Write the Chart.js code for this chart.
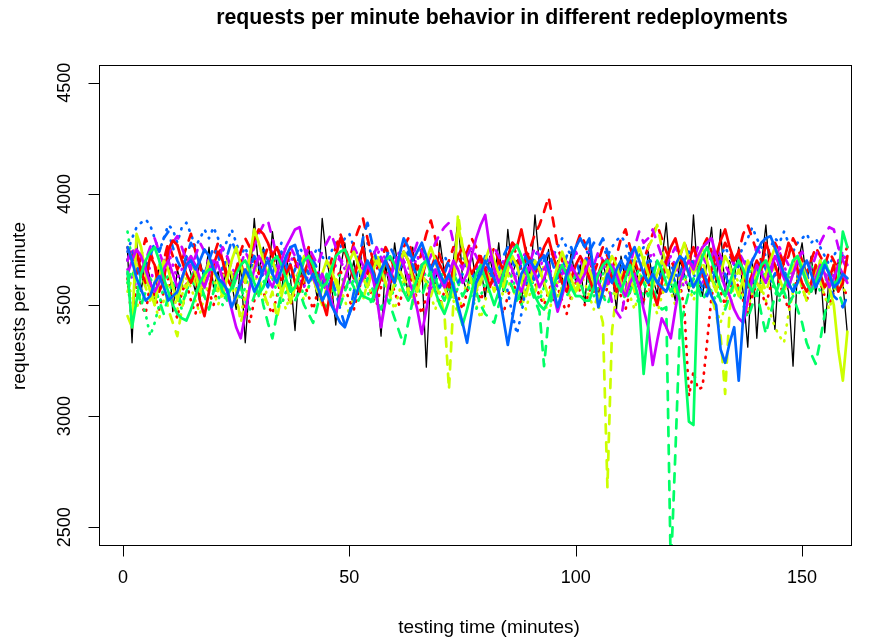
<!DOCTYPE html>
<html>
<head>
<meta charset="utf-8">
<script src="https://cdn.jsdelivr.net/npm/chart.js@4.4.0/dist/chart.umd.min.js"></script>
<style>
  html, body { margin: 0; padding: 0; background: #ffffff; }
  #chart { display: block; }
</style>
</head>
<body>
<canvas id="chart" width="869" height="641"></canvas>
<script>
// requests per minute, one array per redeployment (minute 1..160)
const minutes = Array.from({ length: 160 }, (_, i) => i + 1);
const xTicks = [0, 50, 100, 150];
const yTicks = [2500, 3000, 3500, 4000, 4500];

const blackSolid = [
  3740, 3330, 3790, 3560, 3700, 3620, 3510, 3680, 3590, 3750, 3470, 3660, 3580, 3720, 3640, 3560, 3700, 3610, 3760, 3580,
  3650, 3540, 3720, 3600, 3480, 3690, 3330, 3610, 3890, 3650, 3760, 3590, 3830, 3680, 3560, 3720, 3620, 3385, 3700, 3580,
  3760, 3640, 3520, 3890, 3700, 3600, 3410, 3660, 3780, 3600, 3700, 3550, 3820, 3640, 3720, 3590, 3360, 3680, 3560, 3780,
  3620, 3700, 3540, 3760, 3600, 3680, 3220, 3650, 3580, 3790, 3640, 3520, 3700, 3890, 3620, 3560, 3740, 3600, 3680, 3530,
  3720, 3610, 3780, 3560, 3840, 3640, 3700, 3500, 3760, 3620, 3905, 3680, 3580, 3750, 3520, 3700, 3620, 3560, 3740, 3600,
  3680, 3500, 3760, 3620, 3540, 3700, 3590, 3650, 3480, 3720, 3610, 3560, 3690, 3600, 3500, 3740, 3620, 3550, 3700, 3870,
  3600, 3520, 3700, 3640, 3560, 3905, 3620, 3540, 3700, 3850, 3600, 3840, 3560, 3700, 3620, 3760, 3550, 3310, 3700, 3350,
  3680, 3860, 3600, 3390, 3720, 3640, 3560, 3225, 3680, 3780, 3600, 3720, 3550, 3680, 3375, 3640, 3560, 3700, 3600, 3370
];
const redSolid = [
  3760, 3700, 3740, 3650, 3600, 3720, 3680, 3560, 3610, 3750, 3790, 3770, 3700, 3640, 3600, 3650, 3520, 3450, 3560, 3680,
  3740, 3700, 3620, 3580, 3650, 3700, 3600, 3720, 3800, 3840, 3820, 3780, 3720, 3760, 3700, 3640, 3680, 3600, 3560, 3640,
  3700, 3650, 3580, 3520, 3455, 3600, 3720, 3800, 3740, 3680, 3620, 3700, 3760, 3640, 3700, 3560, 3620, 3700, 3660, 3600,
  3680, 3740, 3700, 3640, 3580, 3620, 3700, 3660, 3720, 3680, 3640, 3580, 3660, 3720, 3760, 3700, 3640, 3680, 3720, 3660,
  3580, 3640, 3700, 3660, 3720, 3780, 3760, 3840, 3740, 3700, 3640, 3700, 3760, 3800, 3720, 3660, 3600, 3560, 3620, 3680,
  3720, 3680, 3620, 3560, 3640, 3700, 3680, 3620, 3560, 3600, 3660, 3700, 3640, 3580, 3620, 3680, 3560, 3500, 3600, 3700,
  3760, 3800, 3720, 3660, 3700, 3760, 3700, 3640, 3580, 3660, 3720, 3790, 3840, 3760, 3700, 3740, 3640, 3580, 3640, 3700,
  3660, 3780, 3720, 3680, 3620, 3700, 3780, 3740, 3660, 3600, 3560, 3600, 3680, 3640, 3580, 3620, 3680, 3560, 3600, 3720
];
const redDashed = [
  3700, 3760, 3640, 3720, 3800, 3740, 3680, 3620, 3700, 3780, 3720, 3660, 3700, 3760, 3820, 3740, 3680, 3600, 3660, 3720,
  3780, 3700, 3640, 3580, 3660, 3740, 3800, 3760, 3700, 3640, 3700, 3760, 3720, 3660, 3600, 3680, 3740, 3700, 3640, 3700,
  3760, 3700, 3640, 3580, 3620, 3700, 3760, 3820, 3760, 3700, 3780, 3840, 3890, 3800, 3720, 3660, 3700, 3760, 3720, 3660,
  3700, 3760, 3800, 3720, 3660, 3740, 3820, 3880, 3800, 3720, 3660, 3700, 3760, 3720, 3680, 3740, 3800, 3760, 3700, 3640,
  3700, 3760, 3700, 3640, 3700, 3780, 3720, 3660, 3700, 3760, 3820, 3860, 3920, 3985, 3880, 3760, 3700, 3640, 3700, 3760,
  3820, 3780, 3700, 3640, 3700, 3760, 3720, 3660, 3720, 3800, 3840, 3760, 3700, 3640, 3700, 3760, 3820, 3860, 3800, 3740,
  3700, 3660, 3720, 3780, 3720, 3660, 3700, 3760, 3800, 3740, 3680, 3720, 3780, 3740, 3680, 3740, 3820, 3860, 3800, 3740,
  3700, 3660, 3720, 3780, 3740, 3680, 3720, 3800, 3760, 3700, 3640, 3700, 3760, 3720, 3680, 3740, 3700, 3660, 3720, 3760
];
const redDotted = [
  3620, 3420, 3580, 3500, 3460, 3600, 3540, 3480, 3560, 3620, 3500, 3440, 3560, 3600, 3520, 3460, 3540, 3600, 3560, 3500,
  3580, 3640, 3560, 3500, 3540, 3600, 3480, 3420, 3520, 3600, 3560, 3500, 3460, 3540, 3620, 3580, 3500, 3560, 3640, 3600,
  3540, 3480, 3560, 3620, 3580, 3520, 3600, 3660, 3580, 3520, 3480, 3560, 3640, 3600, 3540, 3500, 3580, 3660, 3620, 3560,
  3500, 3580, 3640, 3600, 3520, 3460, 3540, 3620, 3580, 3500, 3560, 3640, 3600, 3540, 3480, 3560, 3620, 3580, 3520, 3580,
  3640, 3600, 3520, 3460, 3540, 3600, 3560, 3500, 3580, 3640, 3600, 3540, 3500, 3560, 3620, 3580, 3520, 3460, 3540, 3600,
  3560, 3500, 3560, 3620, 3580, 3520, 3580, 3640, 3600, 3540, 3480, 3560, 3620, 3580, 3520, 3580, 3640, 3600, 3540, 3600,
  3640, 3580, 3600, 3480, 3090, 3200, 3120, 3130, 3330, 3540, 3620, 3560, 3500, 3560, 3620, 3580, 3520, 3460, 3540, 3600,
  3560, 3500, 3580, 3640, 3600, 3540, 3480, 3560, 3620, 3580, 3520, 3580, 3640, 3600, 3540, 3500, 3560, 3620, 3580, 3540
];
const yellowSolid = [
  3450, 3400, 3820, 3760, 3640, 3560, 3500, 3620, 3700, 3660, 3580, 3520, 3600, 3680, 3720, 3640, 3560, 3620, 3700, 3660,
  3600, 3540, 3620, 3700, 3760, 3680, 3600, 3720, 3840, 3780, 3700, 3640, 3700, 3640, 3560, 3600, 3510, 3580, 3660, 3720,
  3680, 3620, 3560, 3640, 3700, 3660, 3600, 3540, 3620, 3700, 3740, 3680, 3620, 3580, 3640, 3700, 3660, 3600, 3540, 3600,
  3680, 3740, 3700, 3620, 3560, 3640, 3700, 3760, 3700, 3620, 3580, 3520, 3600, 3860, 3760, 3680, 3600, 3560, 3640, 3700,
  3760, 3700, 3640, 3580, 3660, 3720, 3680, 3600, 3540, 3620, 3700, 3660, 3600, 3540, 3600, 3680, 3740, 3680, 3620, 3560,
  3620, 3700, 3660, 3600, 3520, 3580, 3660, 3720, 3680, 3600, 3540, 3620, 3700, 3760, 3700, 3640, 3580, 3640, 3700, 3660,
  3600, 3660, 3720, 3780, 3700, 3640, 3700, 3760, 3700, 3620, 3560, 3640, 3720, 3680, 3600, 3540, 3620, 3700, 3660, 3600,
  3560, 3640, 3700, 3760, 3700, 3640, 3580, 3640, 3720, 3680, 3620, 3560, 3620, 3700, 3640, 3580, 3500, 3300, 3160, 3380
];
const yellowDashed = [
  3560, 3620, 3700, 3640, 3580, 3520, 3600, 3680, 3620, 3480, 3420, 3360, 3480, 3580, 3640, 3600, 3540, 3620, 3680, 3620,
  3560, 3620, 3700, 3640, 3560, 3420, 3500, 3600, 3680, 3620, 3560, 3500, 3560, 3440, 3540, 3620, 3680, 3620, 3560, 3620,
  3680, 3620, 3560, 3500, 3580, 3660, 3620, 3560, 3620, 3700, 3640, 3580, 3520, 3600, 3680, 3740, 3660, 3600, 3540, 3600,
  3660, 3620, 3560, 3500, 3580, 3640, 3600, 3540, 3600, 3540, 3460, 3120, 3520, 3910, 3760, 3660, 3600, 3540, 3600, 3660,
  3620, 3560, 3620, 3680, 3640, 3580, 3520, 3600, 3660, 3620, 3560, 3620, 3680, 3640, 3580, 3520, 3580, 3640, 3600, 3540,
  3600, 3660, 3620, 3560, 3500, 3420, 2680, 3380, 3560, 3620, 3680, 3620, 3560, 3620, 3700, 3760, 3800, 3860, 3760, 3680,
  3620, 3560, 3620, 3680, 3640, 3580, 3640, 3700, 3620, 3540, 3460, 3360, 3100, 3480, 3600, 3660, 3600, 3540, 3600, 3660,
  3620, 3560, 3620, 3680, 3620, 3560, 3620, 3680, 3640, 3580, 3520, 3600, 3660, 3620, 3560, 3620, 3680, 3640, 3580, 3620
];
const yellowDotted = [
  3600, 3540, 3480, 3560, 3620, 3580, 3500, 3440, 3520, 3600, 3560, 3480, 3540, 3620, 3580, 3520, 3460, 3540, 3600, 3560,
  3500, 3560, 3620, 3580, 3520, 3460, 3540, 3600, 3640, 3580, 3520, 3580, 3640, 3600, 3540, 3480, 3560, 3620, 3580, 3520,
  3580, 3640, 3600, 3540, 3480, 3560, 3620, 3580, 3520, 3460, 3540, 3600, 3660, 3600, 3540, 3580, 3640, 3600, 3540, 3480,
  3560, 3620, 3580, 3520, 3580, 3640, 3600, 3540, 3480, 3560, 3620, 3580, 3520, 3460, 3540, 3600, 3560, 3500, 3440, 3520,
  3580, 3640, 3600, 3540, 3580, 3640, 3600, 3540, 3480, 3560, 3620, 3580, 3520, 3460, 3540, 3600, 3640, 3580, 3520, 3580,
  3640, 3600, 3540, 3480, 3560, 3620, 3580, 3520, 3580, 3640, 3600, 3540, 3480, 3560, 3620, 3580, 3520, 3460, 3540, 3600,
  3560, 3500, 3560, 3620, 3580, 3520, 3580, 3640, 3600, 3540, 3480, 3420, 3500, 3580, 3640, 3600, 3540, 3480, 3560, 3620,
  3580, 3520, 3460, 3400, 3360, 3330, 3460, 3560, 3620, 3580, 3520, 3580, 3640, 3600, 3540, 3480, 3560, 3620, 3580, 3540
];
const greenSolid = [
  3650, 3400, 3520, 3640, 3700, 3740, 3760, 3700, 3620, 3560, 3500, 3460, 3440, 3430, 3480, 3540, 3600, 3640, 3660, 3660,
  3620, 3560, 3540, 3580, 3640, 3680, 3700, 3660, 3600, 3550, 3580, 3640, 3700, 3720, 3680, 3620, 3560, 3580, 3640, 3700,
  3720, 3680, 3620, 3580, 3600, 3660, 3720, 3740, 3750, 3700, 3640, 3580, 3540, 3530, 3520, 3580, 3640, 3700, 3720, 3680,
  3620, 3560, 3520, 3560, 3620, 3680, 3700, 3640, 3560, 3500, 3460, 3520, 3600, 3480, 3410, 3480, 3560, 3640, 3680, 3620,
  3560, 3500, 3560, 3640, 3700, 3740, 3770, 3720, 3660, 3600, 3540, 3500, 3480, 3520, 3580, 3640, 3680, 3640, 3580, 3540,
  3540, 3520, 3520, 3580, 3640, 3680, 3700, 3660, 3600, 3560, 3620, 3680, 3600, 3520, 3190, 3400, 3620, 3700, 3660, 3600,
  3560, 3600, 3520, 3250, 2975, 2960, 3650, 3720, 3760, 3700, 3640, 3580, 3540, 3600, 3660, 3700, 3660, 3600, 3560, 3620,
  3680, 3700, 3640, 3580, 3540, 3580, 3640, 3700, 3720, 3660, 3600, 3560, 3600, 3660, 3700, 3640, 3580, 3620, 3830, 3760
];
const greenDashed = [
  3600, 3660, 3580, 3500, 3560, 3620, 3580, 3520, 3460, 3540, 3600, 3560, 3500, 3560, 3620, 3660, 3600, 3540, 3480, 3560,
  3620, 3580, 3520, 3560, 3620, 3580, 3520, 3480, 3540, 3600, 3500, 3420, 3350, 3460, 3560, 3620, 3580, 3520, 3560, 3500,
  3460, 3420, 3500, 3580, 3640, 3600, 3540, 3500, 3560, 3620, 3580, 3520, 3560, 3620, 3580, 3520, 3480, 3540, 3500, 3440,
  3380, 3320, 3420, 3520, 3580, 3540, 3600, 3660, 3620, 3560, 3520, 3580, 3640, 3600, 3540, 3580, 3620, 3560, 3500, 3460,
  3440, 3420, 3500, 3560, 3620, 3580, 3520, 3560, 3620, 3580, 3520, 3470, 3225, 3440, 3580, 3640, 3600, 3540, 3580, 3640,
  3600, 3540, 3580, 3640, 3600, 3540, 3500, 3560, 3620, 3580, 3520, 3560, 3620, 3660, 3600, 3540, 3580, 3520, 3480, 3490,
  2300, 2830, 3400, 3480, 3560, 3620, 3580, 3520, 3560, 3620, 3580, 3520, 3480, 3540, 3600, 3560, 3500, 3440, 3500, 3560,
  3460, 3370, 3460, 3540, 3600, 3560, 3500, 3540, 3480, 3420, 3330, 3280, 3235, 3340, 3460, 3540, 3600, 3560, 3500, 3540
];
const greenDotted = [
  3830, 3700, 3600, 3520, 3460, 3360, 3420, 3500, 3580, 3640, 3600, 3540, 3480, 3560, 3620, 3580, 3520, 3580, 3640, 3600,
  3540, 3500, 3560, 3620, 3580, 3520, 3580, 3640, 3600, 3540, 3600, 3660, 3620, 3560, 3500, 3560, 3620, 3660, 3600, 3540,
  3580, 3640, 3600, 3540, 3480, 3540, 3600, 3640, 3600, 3560, 3620, 3660, 3620, 3560, 3500, 3560, 3620, 3580, 3520, 3580,
  3640, 3600, 3540, 3580, 3640, 3680, 3620, 3560, 3600, 3660, 3620, 3560, 3520, 3580, 3640, 3600, 3540, 3480, 3540, 3600,
  3660, 3620, 3560, 3600, 3660, 3620, 3560, 3500, 3560, 3620, 3580, 3520, 3580, 3640, 3600, 3540, 3580, 3640, 3600, 3560,
  3620, 3660, 3600, 3540, 3580, 3640, 3680, 3620, 3560, 3600, 3660, 3620, 3560, 3500, 3560, 3620, 3580, 3520, 3580, 3640,
  3600, 3540, 3580, 3640, 3600, 3540, 3600, 3660, 3620, 3560, 3520, 3580, 3640, 3600, 3540, 3580, 3640, 3680, 3620, 3560,
  3600, 3660, 3620, 3560, 3520, 3580, 3640, 3600, 3540, 3580, 3640, 3680, 3620, 3560, 3600, 3660, 3620, 3560, 3600, 3640
];
const blueSolid = [
  3760, 3700, 3620, 3570, 3520, 3540, 3600, 3630, 3580, 3520, 3540, 3560, 3620, 3680, 3700, 3660, 3700, 3750, 3720, 3660,
  3620, 3600, 3570, 3490, 3540, 3600, 3660, 3620, 3560, 3600, 3660, 3700, 3640, 3600, 3660, 3720, 3760, 3770, 3700, 3640,
  3600, 3640, 3580, 3520, 3560, 3500, 3460, 3420, 3400, 3460, 3510, 3580, 3640, 3700, 3660, 3600, 3660, 3700, 3640, 3600,
  3720, 3800, 3760, 3700, 3740, 3780, 3720, 3660, 3700, 3640, 3600, 3640, 3580, 3500, 3420, 3330, 3460, 3600, 3640, 3700,
  3660, 3620, 3560, 3440, 3320, 3440, 3560, 3640, 3680, 3700, 3660, 3700, 3720, 3660, 3580, 3490, 3560, 3640, 3700, 3760,
  3800, 3760, 3800, 3640, 3490, 3560, 3640, 3600, 3660, 3700, 3660, 3720, 3760, 3700, 3640, 3600, 3640, 3600, 3580, 3560,
  3620, 3680, 3720, 3700, 3640, 3580, 3620, 3660, 3600, 3540, 3500, 3300, 3240, 3330, 3400, 3160, 3450, 3650, 3700, 3740,
  3780, 3800, 3810, 3760, 3700, 3640, 3600, 3560, 3600, 3660, 3700, 3640, 3580, 3620, 3680, 3640, 3580, 3600, 3640, 3620
];
const blueDashed = [
  3700, 3760, 3680, 3620, 3660, 3720, 3780, 3740, 3800, 3830, 3760, 3700, 3660, 3720, 3780, 3740, 3680, 3640, 3700, 3760,
  3720, 3660, 3720, 3790, 3740, 3680, 3620, 3660, 3720, 3680, 3620, 3580, 3640, 3700, 3740, 3680, 3620, 3660, 3720, 3680,
  3640, 3700, 3660, 3600, 3560, 3620, 3560, 3480, 3410, 3460, 3560, 3680, 3800, 3870, 3780, 3700, 3640, 3700, 3760, 3720,
  3660, 3700, 3740, 3680, 3620, 3660, 3720, 3680, 3620, 3580, 3640, 3700, 3660, 3600, 3640, 3700, 3660, 3600, 3660, 3720,
  3680, 3620, 3660, 3720, 3760, 3700, 3640, 3680, 3720, 3660, 3600, 3640, 3700, 3740, 3680, 3620, 3660, 3720, 3760, 3700,
  3640, 3680, 3740, 3780, 3760, 3800, 3740, 3680, 3620, 3660, 3720, 3680, 3620, 3580, 3640, 3700, 3660, 3600, 3640, 3700,
  3660, 3600, 3640, 3700, 3740, 3680, 3620, 3580, 3540, 3600, 3660, 3700, 3640, 3580, 3620, 3680, 3720, 3660, 3600, 3640,
  3700, 3660, 3600, 3640, 3700, 3660, 3600, 3560, 3620, 3680, 3640, 3580, 3620, 3680, 3640, 3580, 3540, 3520, 3490, 3540
];
const blueDotted = [
  3740, 3800, 3850, 3870, 3885, 3860, 3800, 3740, 3800, 3860, 3840, 3780, 3850, 3870, 3820, 3760, 3800, 3840, 3800, 3850,
  3800, 3740, 3790, 3840, 3780, 3720, 3760, 3700, 3660, 3720, 3760, 3700, 3660, 3720, 3780, 3740, 3680, 3720, 3760, 3720,
  3680, 3720, 3760, 3720, 3680, 3740, 3780, 3760, 3800, 3820, 3760, 3700, 3740, 3780, 3720, 3680, 3720, 3760, 3700, 3660,
  3700, 3740, 3700, 3660, 3700, 3760, 3720, 3680, 3640, 3680, 3720, 3680, 3640, 3680, 3720, 3680, 3620, 3660, 3700, 3660,
  3620, 3660, 3700, 3640, 3560, 3460, 3370, 3460, 3580, 3660, 3720, 3760, 3720, 3680, 3720, 3760, 3800, 3760, 3720, 3760,
  3800, 3760, 3720, 3680, 3720, 3760, 3720, 3760, 3790, 3810, 3780, 3720, 3680, 3720, 3760, 3720, 3680, 3640, 3680, 3720,
  3680, 3640, 3600, 3640, 3680, 3640, 3600, 3560, 3600, 3640, 3680, 3720, 3760, 3720, 3680, 3720, 3760, 3800, 3850, 3800,
  3760, 3720, 3760, 3800, 3780, 3830, 3780, 3740, 3780, 3800, 3820, 3780, 3800, 3760, 3720, 3680, 3720, 3760, 3720, 3680
];
const purpleSolid = [
  3640, 3700, 3750, 3720, 3660, 3600, 3560, 3600, 3660, 3700, 3640, 3580, 3620, 3680, 3720, 3680, 3620, 3580, 3640, 3700,
  3680, 3620, 3560, 3480, 3400, 3350, 3460, 3580, 3660, 3720, 3680, 3620, 3580, 3640, 3700, 3760, 3800, 3840, 3850, 3760,
  3680, 3620, 3580, 3640, 3580, 3520, 3460, 3540, 3620, 3680, 3640, 3580, 3620, 3680, 3640, 3540, 3400, 3520, 3620, 3680,
  3720, 3680, 3620, 3560, 3480, 3370, 3480, 3600, 3660, 3620, 3580, 3640, 3700, 3660, 3600, 3640, 3720, 3800, 3860, 3905,
  3760, 3660, 3600, 3640, 3700, 3660, 3600, 3560, 3620, 3680, 3640, 3580, 3620, 3680, 3560, 3470, 3540, 3620, 3680, 3640,
  3600, 3640, 3700, 3660, 3600, 3560, 3620, 3680, 3640, 3580, 3540, 3600, 3640, 3580, 3480, 3400, 3230, 3340, 3440, 3400,
  3350, 3480, 3600, 3660, 3700, 3660, 3720, 3760, 3780, 3800, 3720, 3640, 3580, 3540, 3480, 3440, 3420, 3520, 3620, 3680,
  3640, 3600, 3660, 3720, 3680, 3620, 3580, 3640, 3700, 3660, 3600, 3560, 3620, 3680, 3640, 3580, 3620, 3680, 3640, 3600
];
const purpleDashed = [
  3700, 3760, 3720, 3660, 3700, 3760, 3800, 3740, 3680, 3720, 3780, 3810, 3760, 3700, 3660, 3720, 3780, 3740, 3680, 3640,
  3700, 3760, 3720, 3660, 3620, 3680, 3740, 3700, 3760, 3820, 3860, 3880, 3800, 3720, 3660, 3700, 3760, 3720, 3660, 3700,
  3760, 3720, 3680, 3740, 3780, 3820, 3760, 3700, 3660, 3700, 3760, 3720, 3680, 3640, 3700, 3760, 3720, 3660, 3620, 3680,
  3740, 3700, 3660, 3720, 3780, 3740, 3680, 3720, 3780, 3820, 3850, 3870, 3780, 3700, 3660, 3720, 3760, 3720, 3680, 3640,
  3700, 3760, 3720, 3680, 3720, 3780, 3740, 3680, 3640, 3700, 3760, 3720, 3660, 3700, 3740, 3700, 3660, 3620, 3680, 3740,
  3700, 3660, 3620, 3680, 3740, 3700, 3620, 3510, 3470, 3440, 3560, 3680, 3760, 3830, 3780, 3800, 3840, 3780, 3720, 3680,
  3720, 3760, 3720, 3680, 3640, 3700, 3760, 3720, 3680, 3720, 3760, 3720, 3680, 3640, 3700, 3740, 3700, 3660, 3700, 3760,
  3720, 3680, 3640, 3700, 3760, 3720, 3680, 3640, 3700, 3740, 3700, 3660, 3720, 3780, 3820, 3850, 3840, 3760, 3700, 3660
];
const purpleDotted = [
  3660, 3620, 3580, 3640, 3700, 3660, 3600, 3640, 3700, 3740, 3680, 3620, 3660, 3720, 3680, 3620, 3580, 3640, 3700, 3660,
  3620, 3680, 3720, 3680, 3620, 3580, 3640, 3700, 3660, 3600, 3640, 3700, 3740, 3680, 3620, 3660, 3720, 3680, 3620, 3580,
  3640, 3700, 3660, 3600, 3560, 3620, 3680, 3720, 3660, 3600, 3640, 3700, 3660, 3600, 3640, 3720, 3760, 3700, 3640, 3680,
  3740, 3680, 3620, 3660, 3720, 3680, 3600, 3560, 3620, 3680, 3640, 3600, 3660, 3720, 3760, 3700, 3640, 3660, 3720, 3680,
  3620, 3580, 3640, 3700, 3660, 3600, 3640, 3700, 3740, 3680, 3620, 3660, 3720, 3680, 3620, 3580, 3640, 3700, 3660, 3600,
  3640, 3700, 3740, 3680, 3620, 3660, 3720, 3680, 3600, 3560, 3620, 3680, 3640, 3600, 3640, 3700, 3740, 3680, 3620, 3660,
  3720, 3680, 3620, 3580, 3640, 3700, 3660, 3600, 3640, 3700, 3740, 3680, 3620, 3660, 3720, 3680, 3620, 3580, 3640, 3700,
  3660, 3600, 3640, 3700, 3740, 3680, 3620, 3660, 3720, 3680, 3620, 3580, 3640, 3700, 3660, 3600, 3640, 3700, 3740, 3680
];

// R palette: black + rainbow(5)
const BLACK = '#000000', RED = '#FF0000', YELLOW = '#CCFF00', GREEN = '#00FF66', BLUE = '#0066FF', PURPLE = '#CC00FF';
const DASHED = [9, 9];
const DOTTED = [1, 7];

// listed in R drawing order (first = bottom)
const seriesList = [
  { data: blackSolid, color: BLACK, dash: [], width: 1.3 },
  { data: redDotted, color: RED, dash: DOTTED, width: 2.7 },
  { data: yellowDotted, color: YELLOW, dash: DOTTED, width: 2.7 },
  { data: greenDotted, color: GREEN, dash: DOTTED, width: 2.7 },
  { data: blueDotted, color: BLUE, dash: DOTTED, width: 2.7 },
  { data: purpleDotted, color: PURPLE, dash: DOTTED, width: 2.7 },
  { data: redDashed, color: RED, dash: DASHED, width: 2.7 },
  { data: yellowDashed, color: YELLOW, dash: DASHED, width: 2.7 },
  { data: greenDashed, color: GREEN, dash: DASHED, width: 2.7 },
  { data: blueDashed, color: BLUE, dash: DASHED, width: 2.7 },
  { data: purpleDashed, color: PURPLE, dash: DASHED, width: 2.7 },
  { data: redSolid, color: RED, dash: [], width: 2.7 },
  { data: yellowSolid, color: YELLOW, dash: [], width: 2.7 },
  { data: purpleSolid, color: PURPLE, dash: [], width: 2.7 },
  { data: greenSolid, color: GREEN, dash: [], width: 2.7 },
  { data: blueSolid, color: BLUE, dash: [], width: 2.7 }
];

seriesList.forEach((s, i) => {
  if (s.data.length !== minutes.length) throw new Error('series ' + i + ' has ' + s.data.length + ' values');
});

const datasets = seriesList.map((s, i) => ({
  data: s.data.map((v, j) => ({ x: minutes[j], y: v })),
  borderColor: s.color,
  borderWidth: s.width,
  borderDash: s.dash,
  borderCapStyle: 'round',
  borderJoinStyle: 'round',
  pointRadius: 0,
  tension: 0,
  fill: false,
  order: seriesList.length - i
}));

const FONT = '"Liberation Sans", Arial, Helvetica, sans-serif';

// base-graphics style frame, axes and labels
const rFrame = {
  id: 'rFrame',
  afterDraw(chart) {
    const { ctx, chartArea: a, scales } = chart;
    const xs = scales.x, ys = scales.y;
    ctx.save();
    ctx.strokeStyle = '#000';
    ctx.fillStyle = '#000';
    ctx.lineWidth = 1;
    ctx.strokeRect(a.left + 0.5, a.top + 0.5, a.right - a.left, a.bottom - a.top);

    // x axis
    const xb = a.bottom + 0.5;
    ctx.beginPath();
    ctx.moveTo(xs.getPixelForValue(xTicks[0]), xb);
    ctx.lineTo(xs.getPixelForValue(xTicks[xTicks.length - 1]), xb);
    xTicks.forEach(t => {
      const px = Math.round(xs.getPixelForValue(t)) + 0.5;
      ctx.moveTo(px, xb);
      ctx.lineTo(px, xb + 11);
    });
    ctx.stroke();
    ctx.font = '18px ' + FONT;
    ctx.textAlign = 'center';
    ctx.textBaseline = 'middle';
    xTicks.forEach(t => ctx.fillText(String(t), xs.getPixelForValue(t), 578));

    // y axis
    const yl = a.left + 0.5;
    ctx.beginPath();
    ctx.moveTo(yl, ys.getPixelForValue(yTicks[0]));
    ctx.lineTo(yl, ys.getPixelForValue(yTicks[yTicks.length - 1]));
    yTicks.forEach(t => {
      const py = Math.round(ys.getPixelForValue(t)) + 0.5;
      ctx.moveTo(yl, py);
      ctx.lineTo(yl - 11, py);
    });
    ctx.stroke();
    yTicks.forEach(t => {
      ctx.save();
      ctx.translate(65, ys.getPixelForValue(t));
      ctx.rotate(-Math.PI / 2);
      ctx.fillText(String(t), 0, 0);
      ctx.restore();
    });

    // titles
    ctx.font = '19px ' + FONT;
    ctx.fillText('testing time (minutes)', 489, 628);
    ctx.save();
    ctx.translate(20, 306);
    ctx.rotate(-Math.PI / 2);
    ctx.fillText('requests per minute', 0, 0);
    ctx.restore();
    ctx.font = 'bold 21.3px ' + FONT;
    ctx.fillText('requests per minute behavior in different redeployments', 502, 18);
    ctx.restore();
  }
};

new Chart(document.getElementById('chart'), {
  type: 'line',
  data: { datasets },
  options: {
    responsive: false,
    animation: false,
    devicePixelRatio: 1,
    layout: { padding: { left: 99, right: 18, top: 65, bottom: 96 } },
    scales: {
      x: { type: 'linear', min: -5.3, max: 160.8, display: false },
      y: { type: 'linear', min: 2420, max: 4580, display: false }
    },
    plugins: {
      legend: { display: false },
      tooltip: { enabled: false }
    }
  },
  plugins: [rFrame]
});
</script>
</body>
</html>
